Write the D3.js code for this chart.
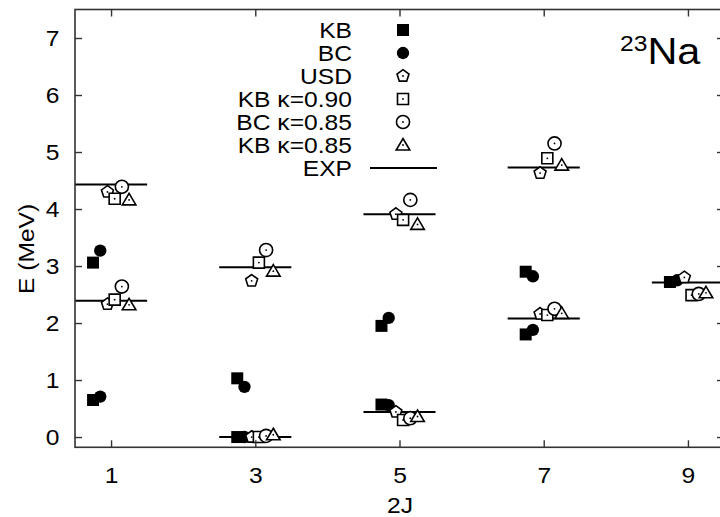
<!DOCTYPE html>
<html>
<head>
<meta charset="utf-8">
<script src="https://cdn.jsdelivr.net/npm/d3@7"></script>
<style>
  html, body { margin: 0; padding: 0; background: #fff; }
  svg { display: block; font-family: "Liberation Sans", Arial, Helvetica, sans-serif; }
</style>
</head>
<body>
<svg id="chart" width="720" height="517"></svg>
<script>
// Level energies of 23Na (MeV) grouped by 2J; each entry is [2J, E]
const twoJTicks = [1, 3, 5, 7, 9];
const energyTicks = [0, 1, 2, 3, 4, 5, 6, 7];

const kb     = [[1, 0.65], [1, 3.06], [3, 0.00], [3, 1.03], [5, 0.57], [5, 1.95], [7, 1.80], [7, 2.90], [9, 2.72]];
const bc     = [[1, 0.71], [1, 3.27], [3, 0.00], [3, 0.88], [5, 0.56], [5, 2.09], [7, 1.88], [7, 2.82], [9, 2.75]];
const usd    = [[1, 2.33], [1, 4.30], [3, 0.00], [3, 2.74], [5, 0.44], [5, 3.91], [7, 2.16], [7, 4.63], [9, 2.80]];
const kb090  = [[1, 2.41], [1, 4.18], [3, 0.00], [3, 3.06], [5, 0.30], [5, 3.81], [7, 2.14], [7, 4.89], [9, 2.49]];
const bc085  = [[1, 2.64], [1, 4.39], [3, 0.02], [3, 3.28], [5, 0.33], [5, 4.16], [7, 2.25], [7, 5.15], [9, 2.51]];
const kb085  = [[1, 2.32], [1, 4.16], [3, 0.04], [3, 2.91], [5, 0.36], [5, 3.73], [7, 2.17], [7, 4.77], [9, 2.53]];
const exp    = [[1, 2.39], [1, 4.43], [3, 0.00], [3, 2.98], [5, 0.44], [5, 3.91], [7, 2.08], [7, 4.73], [9, 2.71]];

const seriesNames = ["KB", "BC", "USD", "KB \u03ba=0.90", "BC \u03ba=0.85", "KB \u03ba=0.85"];
const seriesData = [kb, bc, usd, kb090, bc085, kb085];
const seriesShift = [-0.25, -0.15, -0.05, 0.05, 0.15, 0.25];
const seriesShape = ["squareFilled", "circleFilled", "pentagon", "square", "circle", "triangle"];

const svg = d3.select("#chart");
const x = d3.scaleLinear().domain([0.5, 9.5]).range([75, 724]);
const y = d3.scaleLinear().domain([-0.18, 7.5]).range([447.3, 9.5]);

const frameColor = "#333";
const fontSize = "22px";
const wide = "scale(1.12,1)"; // slightly expanded lettering

// Marker drawing
function pentagonPath(r) {
  const pts = d3.range(5).map(i => {
    const a = -Math.PI / 2 + i * 2 * Math.PI / 5;
    return [r * Math.cos(a), r * Math.sin(a)];
  });
  return "M" + pts.map(p => p.join(",")).join("L") + "Z";
}
function drawMarker(g, shape) {
  const open = { fill: "#fff", stroke: "#000", "stroke-width": 1.6 };
  const apply = (sel, attrs) => { Object.entries(attrs).forEach(([k, v]) => sel.attr(k, v)); return sel; };
  if (shape === "squareFilled") {
    g.append("path").attr("d", d3.symbol(d3.symbolSquare, 144)()).attr("fill", "#000");
  } else if (shape === "circleFilled") {
    g.append("path").attr("d", d3.symbol(d3.symbolCircle, 120)()).attr("fill", "#000");
  } else if (shape === "pentagon") {
    apply(g.append("path").attr("d", pentagonPath(6.3)), open);
  } else if (shape === "square") {
    apply(g.append("path").attr("d", d3.symbol(d3.symbolSquare, 121)()), open);
  } else if (shape === "circle") {
    apply(g.append("path").attr("d", d3.symbol(d3.symbolCircle, 135)()), open);
  } else if (shape === "triangle") {
    apply(g.append("path").attr("d", "M0,-6.5L6.8,5L-6.8,5Z"), open);
  }
  if (!shape.endsWith("Filled")) {
    g.append("circle").attr("r", 0.9).attr("fill", "#000");
  }
}

// Text placed at (tx, ty) with optional rotation, drawn with expanded lettering
function label(tx, ty, rot, str, anchor, size) {
  const g = svg.append("g").attr("transform", `translate(${tx},${ty}) rotate(${rot}) ${wide}`);
  return g.append("text").attr("text-anchor", anchor).style("font-size", size || fontSize).text(str);
}

// Experimental levels as horizontal bars
svg.append("g").selectAll("line").data(exp).join("line")
  .attr("x1", d => x(d[0] - 0.5)).attr("x2", d => x(d[0] + 0.5))
  .attr("y1", d => y(d[1])).attr("y2", d => y(d[1]))
  .attr("stroke", "#000").attr("stroke-width", 2);

// Calculated levels
seriesData.forEach((data, i) => {
  svg.append("g").selectAll("g").data(data).join("g")
    .attr("transform", d => `translate(${x(d[0] + seriesShift[i])},${y(d[1])})`)
    .each(function () { drawMarker(d3.select(this), seriesShape[i]); });
});

// Frame
const [x0, x1] = x.range();
const [yb, yt] = y.range();
svg.append("rect").attr("x", x0).attr("y", yt).attr("width", x1 - x0).attr("height", yb - yt)
  .attr("fill", "none").attr("stroke", frameColor).attr("stroke-width", 1.6);

// Axes with inward ticks, mirrored on top and right
const tickLen = 7;
const axB = svg.append("g").attr("transform", `translate(0,${yb})`)
  .call(d3.axisBottom(x).tickValues(twoJTicks).tickSizeInner(-tickLen).tickSizeOuter(0).tickPadding(20));
const axT = svg.append("g").attr("transform", `translate(0,${yt})`)
  .call(d3.axisTop(x).tickValues(twoJTicks).tickSizeInner(-tickLen).tickSizeOuter(0).tickFormat(""));
const axL = svg.append("g").attr("transform", `translate(${x0},0)`)
  .call(d3.axisLeft(y).tickValues(energyTicks).tickSizeInner(-tickLen).tickSizeOuter(0).tickPadding(14));
const axR = svg.append("g").attr("transform", `translate(${x1},0)`)
  .call(d3.axisRight(y).tickValues(energyTicks).tickSizeInner(-tickLen).tickSizeOuter(0).tickFormat(""));
[axB, axT, axL, axR].forEach(a => {
  a.select(".domain").remove();
  a.selectAll(".tick line").attr("stroke", frameColor).attr("stroke-width", 1.4);
  a.selectAll("text").attr("fill", "#000").attr("transform", wide).style("font-size", fontSize)
    .style("font-family", '"Liberation Sans", Arial, sans-serif');
});
axL.selectAll("text").attr("dy", "0.36em");

// Axis titles
label(400, 513, 0, "2J", "middle");
label(34, y(3.3), -90, "E (MeV)", "middle");

// Nucleus label
const nuc = label(620, 64, 0, null, "start", "37px");
nuc.append("tspan").attr("dy", "-13").style("font-size", "22px").text("23");
nuc.append("tspan").attr("dy", "13").text("Na");

// Legend
const legY0 = 30, legStep = 23, legTextX = 352, legMarkX = 403;
seriesNames.forEach((name, i) => {
  const yy = legY0 + i * legStep;
  label(legTextX, yy, 0, name, "end").attr("dy", "0.36em");
  const g = svg.append("g").attr("transform", `translate(${legMarkX},${yy})`);
  drawMarker(g, seriesShape[i]);
});
const expY = legY0 + 6 * legStep;
label(legTextX, expY, 0, "EXP", "end").attr("dy", "0.36em");
svg.append("line").attr("x1", 370).attr("x2", 437).attr("y1", expY).attr("y2", expY)
  .attr("stroke", "#000").attr("stroke-width", 2);
</script>
</body>
</html>
